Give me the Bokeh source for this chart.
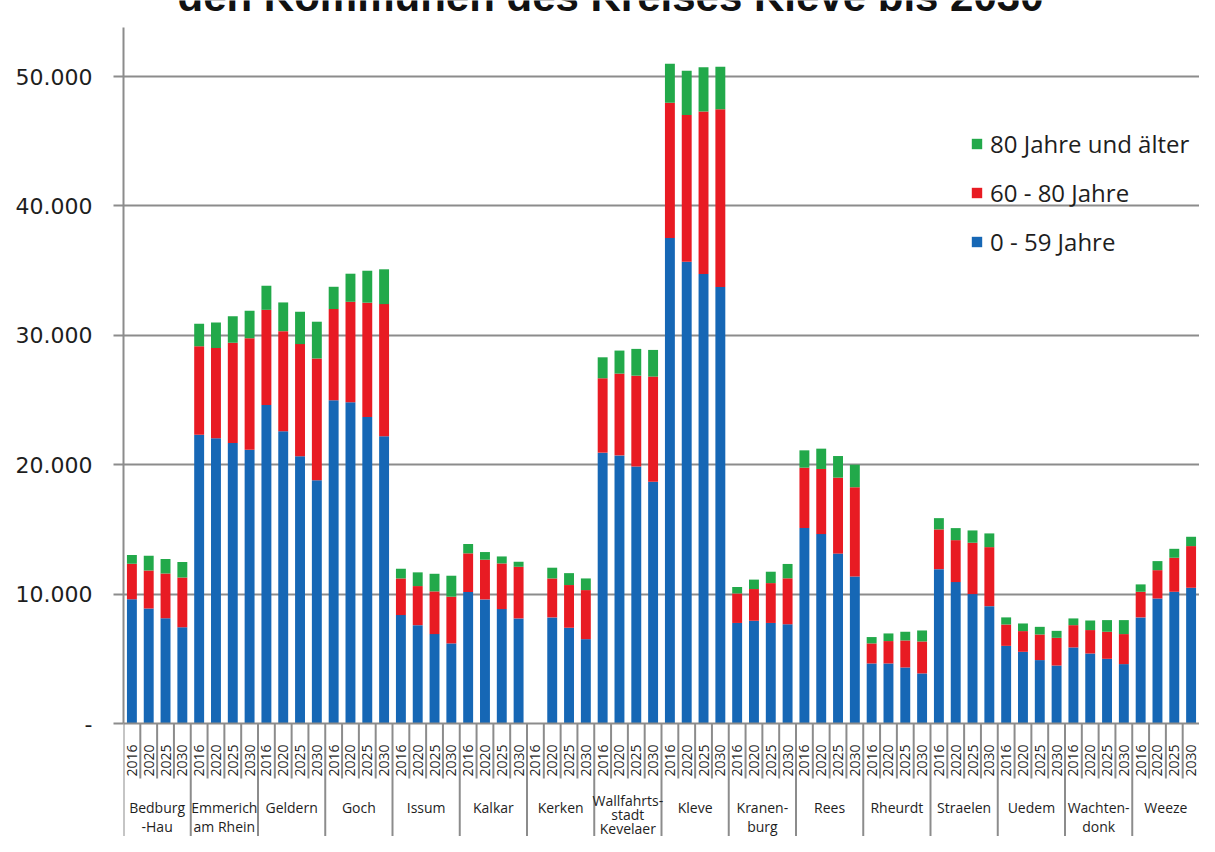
import math
from bokeh.plotting import figure
from bokeh.models import (ColumnDataSource, FactorRange, Range1d, FixedTicker,
                          Legend, LegendItem, Label, Span)
from bokeh.core.properties import value
from bokeh.embed import file_html
from bokeh.resources import INLINE

# ---------------- data ----------------
municipalities = ["Bedburg-Hau", "Emmerich am Rhein", "Geldern", "Goch", "Issum",
                  "Kalkar", "Kerken", "Wallfahrtsstadt Kevelaer", "Kleve", "Kranenburg",
                  "Rees", "Rheurdt", "Straelen", "Uedem", "Wachtendonk", "Weeze"]
group_labels = ["Bedburg\n-Hau", "Emmerich\nam Rhein", "Geldern", "Goch", "Issum",
                "Kalkar", "Kerken", "Wallfahrts-\nstadt\nKevelaer", "Kleve", "Kranen-\nburg",
                "Rees", "Rheurdt", "Straelen", "Uedem", "Wachten-\ndonk", "Weeze"]
years = ["2016", "2020", "2025", "2030"]

# 0 - 59 Jahre (per municipality: 2016, 2020, 2025, 2030)
age_0_59 = [
    9600, 8880, 8130, 7430,
    22320, 22040, 21680, 21160,
    24620, 22580, 20650, 18790,
    24980, 24830, 23690, 22190,
    8380, 7600, 6910, 6190,
    10160, 9590, 8840, 8120,
    0, 8200, 7400, 6520,
    20930, 20720, 19870, 18690,
    37520, 35680, 34740, 33740,
    7770, 7940, 7770, 7670,
    15110, 14640, 13130, 11360,
    4640, 4640, 4330, 3870,
    11930, 10930, 10000, 9070,
    6000, 5540, 4900, 4480,
    5880, 5410, 5000, 4590,
    8200, 9660, 10180, 10490,
]
# 60 - 80 Jahre
age_60_80 = [
    2740, 2940, 3460, 3850,
    6840, 6970, 7740, 8620,
    7350, 7740, 8670, 9420,
    7050, 7760, 8830, 10220,
    2830, 3020, 3300, 3610,
    2990, 3070, 3530, 3990,
    0, 3010, 3300, 3790,
    5750, 6320, 7010, 8120,
    10450, 11350, 12560, 13730,
    2280, 2450, 3080, 3550,
    4660, 5030, 5870, 6900,
    1550, 1730, 2090, 2470,
    3070, 3240, 3970, 4560,
    1650, 1600, 1980, 2140,
    1720, 1810, 2090, 2320,
    1980, 2190, 2630, 3220,
]
# 80 Jahre und älter
age_80_plus = [
    690, 1140, 1130, 1210,
    1730, 1980, 2060, 2120,
    1860, 2220, 2500, 2840,
    1720, 2170, 2470, 2690,
    750, 1060, 1360, 1620,
    720, 590, 540, 390,
    0, 830, 920, 900,
    1620, 1780, 2070, 2060,
    3020, 3420, 3420, 3280,
    500, 730, 880, 1110,
    1340, 1570, 1670, 1740,
    490, 590, 670, 850,
    870, 930, 950, 1060,
    550, 590, 590, 540,
    520, 740, 900, 1080,
    570, 700, 690, 720,
]
series_names = ["0 - 59 Jahre", "60 - 80 Jahre", "80 Jahre und älter"]
y_ticks = [0, 10000, 20000, 30000, 40000, 50000]
y_tick_labels = ["-", "10.000", "20.000", "30.000", "40.000", "50.000"]
title_text = "den Kommunen des Kreises Kleve bis 2030"

# ---------------- layout ----------------
W, H = 1199, 836
LEFT = 123
PX = 12.94 / 1000.0          # pixels per unit
ZERO = 723                   # canvas y of value 0
y_max = ZERO / PX
y_min = -(H - ZERO) / PX


def below(px):
    """data value that lies px pixels below the zero line"""
    return -px / PX


BLUE, RED, GREEN = "#1667b5", "#e81b23", "#22a94a"
GRAY = "#8c8c8c"
TXT = "#1e1e1e"

factors = [(m, y) for m in municipalities for y in years]
x_range = FactorRange(factors=factors, group_padding=0, factor_padding=0,
                      subgroup_padding=0, range_padding=0)

p = figure(width=W, height=H, x_range=x_range, y_range=Range1d(y_min, y_max),
           x_axis_location=None, output_backend="svg", toolbar_location=None,
           min_border_left=LEFT, min_border_right=0, min_border_top=0,
           min_border_bottom=0)
p.outline_line_color = None
p.xgrid.visible = False
p.ygrid.ticker = FixedTicker(ticks=y_ticks[1:])
p.ygrid.grid_line_color = GRAY
p.ygrid.grid_line_width = 2

yax = p.yaxis[0]
yax.ticker = FixedTicker(ticks=y_ticks)
yax.major_label_overrides = dict(zip(y_ticks, y_tick_labels))
yax.bounds = (0, 53800)
yax.axis_line_color = GRAY
yax.axis_line_width = 2
yax.major_tick_line_color = GRAY
yax.major_tick_line_width = 2
yax.major_tick_in = 0
yax.major_tick_out = 10
yax.minor_tick_line_color = None
yax.major_label_standoff = 21
yax.major_label_text_font = "DejaVu Sans"
yax.major_label_text_font_size = "22px"
yax.major_label_text_color = TXT

# x axis baseline
p.add_layout(Span(location=0, dimension="width", line_color=GRAY, line_width=2))

source = ColumnDataSource(dict(x=factors, young=age_0_59, mid=age_60_80, old=age_80_plus))
rs = p.vbar_stack(["young", "mid", "old"], x="x", width=0.59,
                  fill_color=[BLUE, RED, GREEN], line_color=None, source=source)

# separators below the axis
year_bounds = [(m, y, -0.5) for m in municipalities for y in years[1:]]
group_bounds = [(m, years[0], -0.5) for m in municipalities]
p.segment(x0=year_bounds, y0=0, x1=year_bounds, y1=below(55),
          line_color=GRAY, line_width=2)
p.segment(x0=group_bounds, y0=0, x1=group_bounds, y1=y_min,
          line_color=GRAY, line_width=2)

# year labels (vertical)
p.text(x=factors, y=below(37), text=[f[1] for f in factors], angle=math.pi / 2,
       text_align="center", text_baseline="middle", text_font=value("Open Sans"),
       text_font_size="14px", text_color=TXT)

# municipality labels (labels with three lines are set a little tighter so
# that they stay on the page)
short = [i for i, t in enumerate(group_labels) if t.count("\n") < 2]
tall = [i for i, t in enumerate(group_labels) if t.count("\n") >= 2]
p.text(x=[municipalities[i] for i in short], y=below(74),
       text=[group_labels[i] for i in short], text_align="center",
       text_baseline="top", text_font=value("Open Sans"), text_font_size="14px",
       text_line_height=1.05, text_color=TXT)
p.text(x=[municipalities[i] for i in tall], y=below(67),
       text=[group_labels[i] for i in tall], text_align="center",
       text_baseline="top", text_font=value("Open Sans"), text_font_size="14px",
       text_line_height=0.74, text_color=TXT)

# cut-off title at the very top
slot = (W - LEFT) / len(factors)
p.add_layout(Label(x=(610 - LEFT) / slot, y=y_max + 4 / PX,
                   text=title_text, text_align="center", text_baseline="alphabetic",
                   text_font="Liberation Sans", text_font_style="bold",
                   text_font_size="42px", text_color="#111111"))

legend = Legend(items=[LegendItem(label=series_names[2], renderers=[rs[2]]),
                       LegendItem(label=series_names[1], renderers=[rs[1]]),
                       LegendItem(label=series_names[0], renderers=[rs[0]])],
                location=(847, 578), orientation="vertical",
                glyph_width=13, glyph_height=13, label_standoff=7, spacing=16,
                padding=0, margin=0, border_line_color=None,
                background_fill_alpha=0, label_text_font="Open Sans",
                label_text_font_size="24px", label_text_color=TXT)
p.add_layout(legend)

open("out.html", "w").write(file_html(p, INLINE))
